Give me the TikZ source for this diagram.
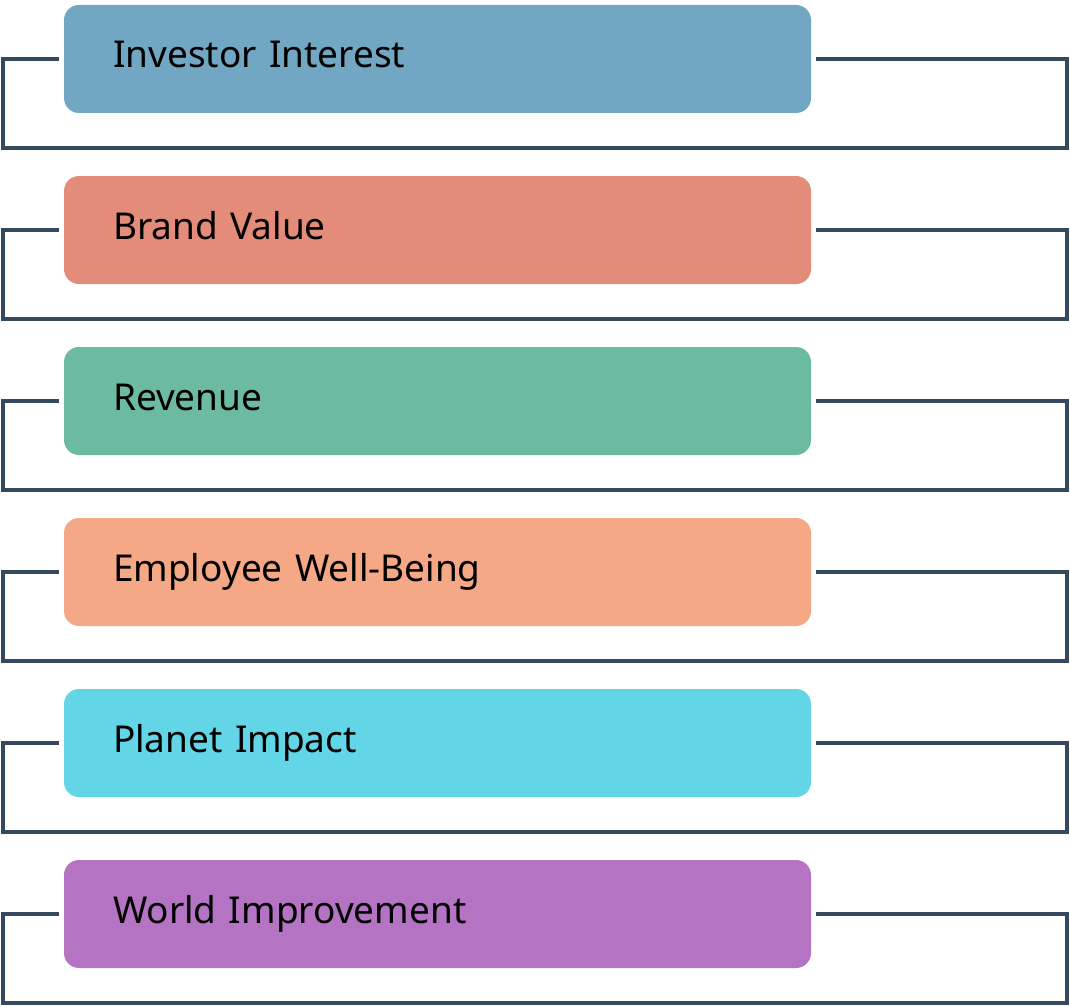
\documentclass[tikz,border=0pt]{standalone}
\usepackage{fontspec}
\setmainfont{Noto Sans}
\definecolor{boxA}{HTML}{71A7C3}
\definecolor{boxB}{HTML}{E28C79}
\definecolor{boxC}{HTML}{6DBAA3}
\definecolor{boxD}{HTML}{F5A886}
\definecolor{boxE}{HTML}{62D5E6}
\definecolor{boxF}{HTML}{B574C3}
\definecolor{lineclr}{HTML}{34495E}
\begin{document}
\begin{tikzpicture}[x=1pt,y=-1pt,
        box/.style={rounded corners=15pt, minimum width=747pt, minimum height=108pt,
            text width=649pt, align=left, inner xsep=49pt,
            font=\fontsize{37}{42}\selectfont, text height=26pt, text depth=8pt},
        bracket/.style={draw=lineclr, line width=3.4pt}]
        \useasboundingbox (0,0) rectangle (1070,1006);
        
        \foreach \name/\clr [count=\i from 0] in {Investor Interest/boxA, Brand Value/boxB,
            Revenue/boxC, Employee Well-Being/boxD, Planet Impact/boxE, World Improvement/boxF} {
            \node[box, fill=\clr] (b\i) at (437.5, 59+171*\i) {\name};
            \coordinate (l\i) at (3, 148+171*\i);
            \coordinate (r\i) at (1067, 148+171*\i);
            \draw[bracket] ([xshift=-5pt]b\i.west) -| (l\i) -- (r\i) |- ([xshift=5pt]b\i.east);
        }
    \end{tikzpicture}
\end{document}
